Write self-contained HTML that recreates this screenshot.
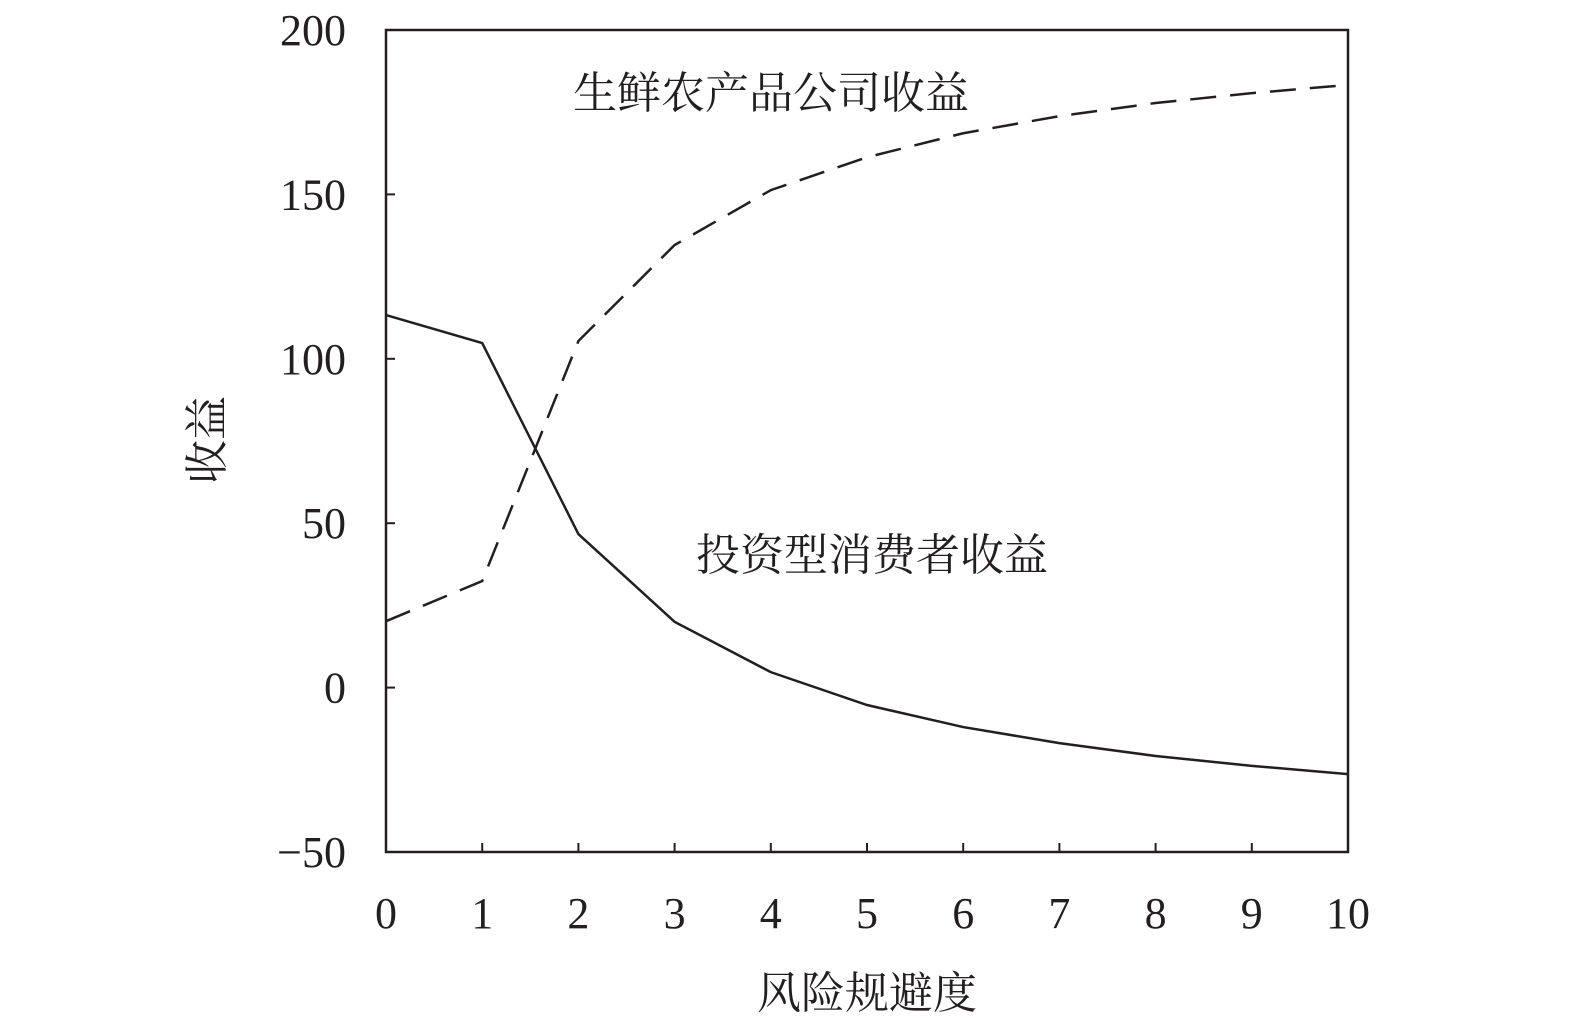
<!DOCTYPE html>
<html><head><meta charset="utf-8"><style>
html,body{margin:0;padding:0;background:#fff;}
svg{display:block;}
text{font-family:"Liberation Serif","Noto Serif CJK SC",serif;fill:#231f20;}
</style></head><body>
<svg id="chart" width="1575" height="1024" viewBox="0 0 1575 1024">
<rect x="386" y="30" width="962" height="822" fill="none" stroke="#231f20" stroke-width="2.5"/>
<g id="ticks"></g>
<g id="series"></g>
<text x="771" y="108" font-size="44" text-anchor="middle">生鲜农产品公司收益</text>
<text x="872" y="570" font-size="44" text-anchor="middle">投资型消费者收益</text>
<text x="867" y="1008" font-size="44" text-anchor="middle">风险规避度</text>
<text transform="translate(222,440) rotate(-90)" font-size="44" text-anchor="middle">收益</text>
</svg>
<script>
const xCats = [0,1,2,3,4,5,6,7,8,9,10];
const consumerValues = [113.3,104.8,46.7,20,4.7,-5.3,-12,-16.9,-20.8,-23.8,-26.3];
const companyValues = [20.2,32.4,105.4,134.6,151.3,161.3,168.6,173.8,177.8,180.8,183.3];
const yTicks = [-50,0,50,100,150,200];
const yTickLabels = ["−50","0","50","100","150","200"];
const NS="http://www.w3.org/2000/svg";
const X0=386,X1=1348,Y0=852,Y1=30;
function xs(v){return X0+(v-0)/(10-0)*(X1-X0);}
function ys(v){return Y0-(v+50)/250*(Y0-Y1);}
const tg=document.getElementById('ticks');
xCats.forEach(v=>{
  const l=document.createElementNS(NS,'line');
  l.setAttribute('x1',xs(v));l.setAttribute('x2',xs(v));l.setAttribute('y1',Y0);l.setAttribute('y2',Y0-9);
  l.setAttribute('stroke','#231f20');l.setAttribute('stroke-width','2');
  
  
  tg.appendChild(l);
  const t=document.createElementNS(NS,'text');
  t.setAttribute('x',xs(v));t.setAttribute('y',928);t.setAttribute('font-size','44');t.setAttribute('text-anchor','middle');
  t.textContent=v;
  
  
  tg.appendChild(t);
});
yTicks.forEach((v,i)=>{
  const l=document.createElementNS(NS,'line');
  l.setAttribute('x1',X0);l.setAttribute('x2',X0+9);l.setAttribute('y1',ys(v));l.setAttribute('y2',ys(v));
  l.setAttribute('stroke','#231f20');l.setAttribute('stroke-width','2');
  
  
  tg.appendChild(l);
  const t=document.createElementNS(NS,'text');
  t.setAttribute('x',346);t.setAttribute('y',ys(v)+15);t.setAttribute('font-size','44');t.setAttribute('text-anchor','end');
  t.textContent=yTickLabels[i];
  
  
  tg.appendChild(t);
});
const sg=document.getElementById('series');
function line(vals,dash,name){
  const p=document.createElementNS(NS,'polyline');
  p.setAttribute('points',vals.map((v,i)=>xs(xCats[i])+','+ys(v)).join(' '));
  p.setAttribute('fill','none');p.setAttribute('stroke','#231f20');p.setAttribute('stroke-width','2.5');
  if(dash)p.setAttribute('stroke-dasharray',dash);
  
  
  sg.appendChild(p);
}
line(consumerValues,null,'consumer-revenue-line');
line(companyValues,'26,14','company-revenue-line');
</script>
</body></html>
